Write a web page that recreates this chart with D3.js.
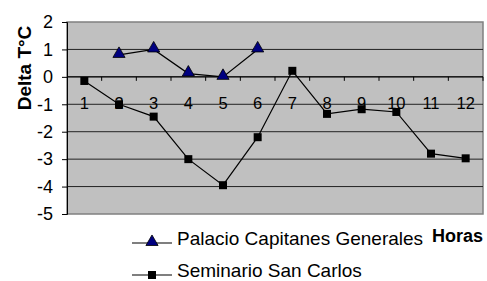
<!DOCTYPE html>
<html>
<head>
<meta charset="utf-8">
<script src="https://cdn.jsdelivr.net/npm/d3@7"></script>
<style>
body { margin: 0; background: #fff; overflow: hidden; }
text { font-family: "Liberation Sans", Arial, sans-serif; }
</style>
</head>
<body>
<script>
var w = 487;
var h = 281;

var horas = ["1","2","3","4","5","6","7","8","9","10","11","12"];
var yTicks = [2, 1, 0, -1, -2, -3, -4, -5];
// Palacio Capitanes Generales (null = no reading)
var palacio = [null, 0.8, 1.0, 0.12, 0.0, 1.0, null, null, null, null, null, null];
// Seminario San Carlos
var seminario = [-0.15, -1.0, -1.45, -3.0, -3.95, -2.2, 0.22, -1.35, -1.18, -1.28, -2.8, -2.97];

var plot = {left: 67, right: 483, top: 22, bottom: 214};

var svg = d3.select("body")
	.append("svg")
	.attr("width", w)
	.attr("height", h);

var x = d3.scaleBand()
	.domain(horas)
	.range([plot.left, plot.right]);

var y = d3.scaleLinear()
	.domain([-5, 2])
	.range([plot.bottom, plot.top]);

// plot background
svg.append("rect")
	.attr("x", plot.left)
	.attr("y", plot.top)
	.attr("width", plot.right - plot.left)
	.attr("height", plot.bottom - plot.top)
	.attr("fill", "#c0c0c0")
	.attr("stroke", "#808080")
	.attr("stroke-width", 1.5);

// gridlines
svg.selectAll("line.grid")
	.data(yTicks.filter(function(d) { return d > -5 && d < 2; }))
	.enter().append("line")
	.attr("class", "grid")
	.attr("x1", plot.left)
	.attr("x2", plot.right)
	.attr("y1", function(d) { return y(d); })
	.attr("y2", function(d) { return y(d); })
	.attr("stroke", "#222")
	.attr("stroke-width", 1);

// y axis (plain hyphen for negatives, like the original)
var yAxis = svg.append("g")
	.attr("transform", "translate(" + plot.left + ",0)")
	.call(d3.axisLeft(y).tickValues(yTicks).tickSize(5).tickPadding(9).tickFormat(function(d) { return String(d); }));
yAxis.select(".domain").attr("stroke", "#000");
yAxis.selectAll("text")
	.attr("font-size", 18)
	.attr("font-family", "Liberation Sans, Arial, sans-serif")
	.attr("fill", "#000");

// category axis on the zero line
var xAxis = svg.append("g")
	.attr("transform", "translate(0," + y(0) + ")");
xAxis.selectAll("line.tick")
	.data(horas.slice(1))
	.enter().append("line")
	.attr("x1", function(d) { return x(d); })
	.attr("x2", function(d) { return x(d); })
	.attr("y1", 0)
	.attr("y2", 4)
	.attr("stroke", "#000");
xAxis.append("line")
	.attr("x1", plot.right)
	.attr("x2", plot.right)
	.attr("y1", 0)
	.attr("y2", 4)
	.attr("stroke", "#000");
xAxis.append("line")
	.attr("x1", plot.left)
	.attr("x2", plot.right)
	.attr("stroke", "#000");
xAxis.selectAll("text")
	.data(horas)
	.enter().append("text")
	.attr("x", function(d) { return x(d) + x.bandwidth() / 2; })
	.attr("y", 32.5)
	.attr("text-anchor", "middle")
	.attr("font-size", 16.5)
	.attr("fill", "#000")
	.text(function(d) { return d; });

var line = d3.line()
	.defined(function(d) { return d != null; })
	.x(function(d, i) { return x(horas[i]) + x.bandwidth() / 2; })
	.y(function(d) { return y(d); });

svg.append("path")
	.datum(seminario)
	.attr("d", line)
	.attr("fill", "none")
	.attr("stroke", "#000")
	.attr("stroke-width", 1.2);

svg.append("path")
	.datum(palacio)
	.attr("d", line)
	.attr("fill", "none")
	.attr("stroke", "#000")
	.attr("stroke-width", 1.2);

var square = d3.symbol().type(d3.symbolSquare).size(64);
var triangle = d3.symbol().type(d3.symbolTriangle).size(64);

svg.selectAll("path.sem")
	.data(seminario)
	.enter().append("path")
	.attr("class", "sem")
	.attr("d", square)
	.attr("transform", function(d, i) { return "translate(" + (x(horas[i]) + x.bandwidth() / 2) + "," + y(d) + ")"; })
	.attr("fill", "#000");

svg.selectAll("path.pal")
	.data(palacio.map(function(d, i) { return {v: d, h: horas[i]}; }).filter(function(d) { return d.v != null; }))
	.enter().append("path")
	.attr("class", "pal")
	.attr("d", triangle)
	.attr("transform", function(d) { return "translate(" + (x(d.h) + x.bandwidth() / 2) + "," + (y(d.v) - 1) + ")"; })
	.attr("fill", "#000080")
	.attr("stroke", "#000")
	.attr("stroke-width", 0.8);

// axis titles
svg.append("text")
	.attr("transform", "translate(31,68) rotate(-90)")
	.attr("text-anchor", "middle")
	.attr("font-size", 19)
	.attr("font-weight", "bold")
	.text("Delta T°C");

svg.append("text")
	.attr("x", 432)
	.attr("y", 242)
	.attr("font-size", 18)
	.attr("font-weight", "bold")
	.text("Horas");

// legend
var legend = svg.append("g");
var legendItems = [
	{name: "Palacio Capitanes Generales", sym: triangle, fill: "#000080", y: 243},
	{name: "Seminario San Carlos", sym: square, fill: "#000", y: 275}
];
legendItems.forEach(function(d) {
	legend.append("line")
		.attr("x1", 132).attr("x2", 172)
		.attr("y1", d.y).attr("y2", d.y)
		.attr("stroke", "#000")
		.attr("stroke-width", 1.2);
	legend.append("path")
		.attr("d", d.sym)
		.attr("transform", "translate(152," + (d.y - (d.sym === triangle ? 1 : 0)) + ")")
		.attr("fill", d.fill)
		.attr("stroke", d.sym === triangle ? "#000" : "none")
		.attr("stroke-width", 0.8);
	legend.append("text")
		.attr("x", 177)
		.attr("y", d.y + 2)
		.attr("font-size", 19)
		.text(d.name);
});
</script>
</body>
</html>
